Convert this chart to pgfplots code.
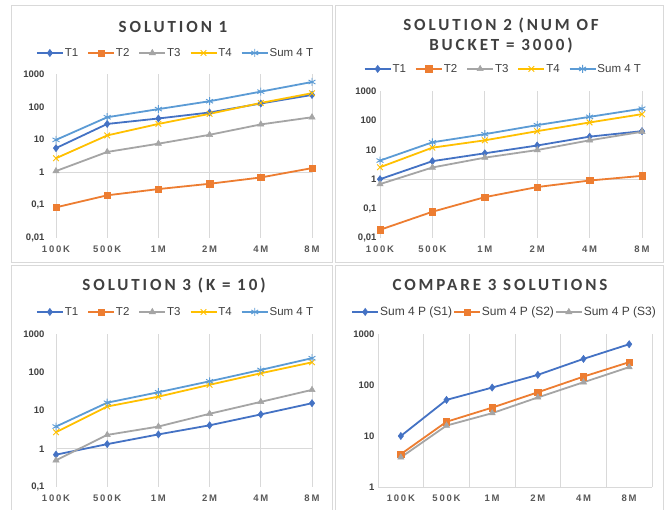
\documentclass[border=0pt]{standalone}
\usepackage{pgfplots}
\pgfplotsset{compat=1.18}
\usepackage{fontspec}
\setmainfont{Liberation Sans}
\newfontfamily\titlefont[LetterSpace=17]{Carlito}
\newfontfamily\xtickfont[LetterSpace=19]{Liberation Sans}
\definecolor{cT1}{HTML}{4472C4}
\definecolor{cT2}{HTML}{ED7D31}
\definecolor{cT3}{HTML}{A5A5A5}
\definecolor{cT4}{HTML}{FFC000}
\definecolor{cT5}{HTML}{5B9BD5}
\definecolor{gridc}{HTML}{D9D9D9}
\definecolor{txt}{HTML}{404040}
\definecolor{txt2}{HTML}{595959}
\pgfplotsset{
  every axis/.append style={
    scale only axis, clip=false,
    xtick={0,...,5}, xticklabels={100K,500K,1M,2M,4M,8M},
    axis line style={draw=none}, major tick length=0, minor tick length=0,
    grid style={draw=gridc, line width=0.9pt},
    xticklabel style={font=\xtickfont\bfseries\fontsize{9.5}{11}\selectfont, text=txt2, yshift=-4pt},
    yticklabel style={font=\bfseries\fontsize{9.5}{11}\selectfont, text=txt},
    legend columns=-1,
    legend style={draw=none, fill=none, font=\fontsize{11.5}{13}\selectfont, text=txt, anchor=center,
      /tikz/every even column/.append style={column sep=8pt},
      nodes={inner xsep=1pt}},
  },
  legend image code/.code={\draw[mark repeat=2,mark phase=2] plot coordinates {(0pt,0pt) (13pt,0pt) (26pt,0pt)};},
  s1/.style={cT1, line width=1.8pt, mark=diamond*, mark size=3.6pt, mark options={solid, line width=0.5pt}},
  s2/.style={cT2, line width=1.8pt, mark=square*, mark size=3.2pt, mark options={solid, line width=0.5pt}},
  s3/.style={cT3, line width=1.8pt, mark=triangle*, mark size=3.6pt, mark options={solid, line width=0.5pt}},
  s4/.style={cT4, line width=1.8pt, mark=x, mark size=4pt, mark options={solid, line width=0.9pt}},
  s5/.style={cT5, line width=1.8pt, mark=asterisk, mark size=4pt, mark options={solid, line width=0.9pt}},
}
\begin{document}
\begin{tikzpicture}
\path[use as bounding box] (0,0) rectangle (667pt,510pt);
\fill[white] (0,0) rectangle (667pt,510pt);
% panel borders
\draw[gridc, line width=0.9pt] (11pt,248pt) rectangle (332pt,505pt);
\draw[gridc, line width=0.9pt] (335pt,248pt) rectangle (663pt,505pt);
\draw[gridc, line width=0.9pt] (11pt,0pt) -- (11pt,245pt) -- (332pt,245pt) -- (332pt,0pt);
\draw[gridc, line width=0.9pt] (335pt,0pt) -- (335pt,245pt) -- (663pt,245pt) -- (663pt,0pt);
% titles
\node[text=txt, font=\titlefont\bfseries\fontsize{17}{21}\selectfont] at (173pt,483pt) {SOLUTION 1};
\node[text=txt, font=\titlefont\bfseries\fontsize{17}{20}\selectfont, align=center] at (501pt,475pt) {SOLUTION 2 (NUM OF\\BUCKET = 3000)};
\node[text=txt, font=\titlefont\bfseries\fontsize{17}{21}\selectfont] at (174pt,225pt) {SOLUTION 3 (K = 10)};
\node[text=txt, font=\titlefont\bfseries\fontsize{17}{21}\selectfont] at (500pt,225pt) {COMPARE 3 SOLUTIONS};

% Panel 1
\begin{axis}[ymode=log, at={(56pt,272pt)}, anchor=south west, width=256pt, height=164pt,
  xmin=0, xmax=5, ymin=0.01, ymax=1000, xmajorgrids,
  ytick={0.01,0.1,1,10,100,1000}, yticklabels={{0,01},{0,1},1,10,100,1000},
  yticklabel style={xshift=-8pt},
  legend style={at={(0.465,1.128)}}]
\addplot[gridc, line width=0.9pt, forget plot] coordinates {(0,1) (5,1)};
\addplot[s1] coordinates {(0,5.5) (1,30) (2,44) (3,67) (4,126) (5,230)};
\addlegendentry{T1}
\addplot[s2] coordinates {(0,0.086) (1,0.2) (2,0.31) (3,0.45) (4,0.7) (5,1.35)};
\addlegendentry{T2}
\addplot[s3] coordinates {(0,1.1) (1,4.2) (2,7.5) (3,14) (4,29) (5,48)};
\addlegendentry{T3}
\addplot[s4] coordinates {(0,2.7) (1,13.4) (2,30) (3,61) (4,131) (5,260)};
\addlegendentry{T4}
\addplot[s5] coordinates {(0,9.8) (1,48) (2,85) (3,148) (4,290) (5,570)};
\addlegendentry{Sum 4 T}
\end{axis}

% Panel 2
\begin{axis}[ymode=log, at={(380pt,272pt)}, anchor=south west, width=262pt, height=147pt,
  xmin=0, xmax=5, ymin=0.01, ymax=1000, xmajorgrids,
  ytick={0.01,0.1,1,10,100,1000}, yticklabels={{0,01},{0,1},1,10,100,1000},
  legend style={at={(0.469,1.15)}}]
\addplot[gridc, line width=0.9pt, forget plot] coordinates {(0,1) (5,1)};
\addplot[s1] coordinates {(0,1.0) (1,4.1) (2,7.6) (3,14) (4,28) (5,43)};
\addlegendentry{T1}
\addplot[s2] coordinates {(0,0.019) (1,0.078) (2,0.245) (3,0.54) (4,0.9) (5,1.3)};
\addlegendentry{T2}
\addplot[s3] coordinates {(0,0.68) (1,2.5) (2,5.4) (3,9.8) (4,21) (5,41)};
\addlegendentry{T3}
\addplot[s4] coordinates {(0,2.55) (1,11.8) (2,21) (3,43) (4,85) (5,163)};
\addlegendentry{T4}
\addplot[s5] coordinates {(0,4.3) (1,18) (2,34) (3,69) (4,132) (5,250)};
\addlegendentry{Sum 4 T}
\end{axis}

% Panel 3
\begin{axis}[ymode=log, at={(56pt,23pt)}, anchor=south west, width=256pt, height=153pt,
  xmin=0, xmax=5, ymin=0.1, ymax=1000, xmajorgrids,
  ytick={0.1,1,10,100,1000}, yticklabels={{0,1},1,10,100,1000},
  yticklabel style={xshift=-8pt},
  legend style={at={(0.465,1.144)}}]
\addplot[gridc, line width=0.9pt, forget plot] coordinates {(0,1) (5,1)};
\addplot[s1] coordinates {(0,0.7) (1,1.32) (2,2.37) (3,4.1) (4,7.9) (5,15.5)};
\addlegendentry{T1}
\addlegendimage{cT2, line width=1.8pt, mark=square*, mark size=3.2pt, mark options={solid, line width=0.5pt}}
\addlegendentry{T2}
\addplot[s3] coordinates {(0,0.5) (1,2.3) (2,3.8) (3,8.2) (4,16.8) (5,34.6)};
\addlegendentry{T3}
\addplot[s4] coordinates {(0,2.7) (1,12.7) (2,23) (3,47) (4,94) (5,182)};
\addlegendentry{T4}
\addplot[s5] coordinates {(0,3.8) (1,16) (2,30) (3,58) (4,115) (5,233)};
\addlegendentry{Sum 4 T}
\end{axis}

% Panel 4
\begin{axis}[ymode=log, at={(378pt,23pt)}, anchor=south west, width=274pt, height=153pt,
  xmin=-0.5, xmax=5.5, ymin=1, ymax=1000,
  minor xtick={-0.5,0.5,...,5.5}, xminorgrids,
  minor grid style={draw=gridc, line width=0.9pt},
  ytick={1,10,100,1000}, yticklabels={1,10,100,1000},
  legend style={at={(0.46,1.144)}, font=\fontsize{12}{14}\selectfont, /tikz/every even column/.append style={column sep=0pt}}]
\addplot[gridc, line width=0.9pt, forget plot] coordinates {(-0.5,1) (5.5,1)};
\addplot[s1] coordinates {(0,10) (1,51) (2,89) (3,158) (4,325) (5,630)};
\addlegendentry{Sum 4 P (S1)}
\addplot[s2] coordinates {(0,4.4) (1,19) (2,36) (3,72) (4,146) (5,280)};
\addlegendentry{Sum 4 P (S2)}
\addplot[s3] coordinates {(0,3.8) (1,16) (2,28) (3,57) (4,113) (5,224)};
\addlegendentry{Sum 4 P (S3)}
\end{axis}
\end{tikzpicture}
\end{document}
